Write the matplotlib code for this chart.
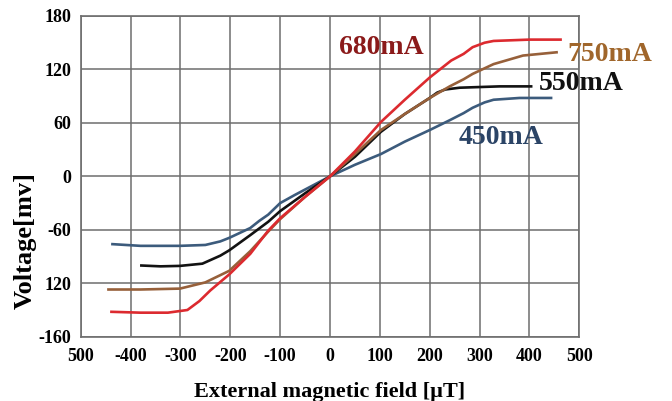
import matplotlib
matplotlib.use("Agg")
import matplotlib.pyplot as plt

# data (field in uT, voltage in mV)
blue_x = [-439, -380, -301, -250, -220, -202, -160, -142, -124, -100, -71, 0, 50, 102, 150, 200, 240, 268, 286, 310, 328, 380, 446]
blue_y = [-76, -78, -78, -77, -73, -69, -58, -50, -43, -30, -21, 0, 13, 25, 39, 52, 63, 71, 77, 83, 86, 88, 88]

black_x = [-381, -340, -301, -256, -220, -202, -160, -124, -100, -50, 0, 50, 102, 150, 200, 215, 231, 260, 286, 340, 406]
black_y = [-100, -101, -100.5, -98, -89, -83, -66, -51, -39, -19, 0, 22, 50, 70, 88, 94, 97.5, 99.5, 100, 101, 101]

brown_x = [-447, -380, -301, -250, -202, -160, -124, -100, -50, 0, 50, 102, 150, 200, 240, 268, 286, 328, 387, 457]
brown_y = [-127, -127, -126, -119, -106, -84, -62, -48, -23, 0, 25, 52, 70, 88, 101, 109, 115, 126, 135.6, 139.4]

red_x = [-441, -380, -325, -286, -262, -240, -202, -160, -124, -100, -50, 0, 50, 102, 150, 200, 243, 268, 286, 310, 328, 400, 465]
red_y = [-152, -153, -153, -150, -140, -128, -110, -87, -61, -47, -23, 0, 28, 61, 86, 111, 130, 137.5, 145, 150, 152, 153.5, 153.5]

series = [
    ("450mA", blue_x, blue_y, "#3c5b7c", "#2b4466", 343, 44),
    ("550mA", black_x, black_y, "#121212", "#111111", 503, 104),
    ("750mA", brown_x, brown_y, "#97603a", "#a0662b", 562, 137),
    ("680mA", red_x, red_y, "#dc2a2f", "#8b1a1a", 102, 145),
]

x_ticks = [-500, -400, -300, -200, -100, 0, 100, 200, 300, 400, 500]
x_labels = ["500", "-400", "-300", "-200", "-100", "0", "100", "200", "300", "400", "500"]
y_ticks = [180, 120, 60, 0, -60, -120, -180]
y_labels = ["180", "120", "60", "0", "-60", "120", "-160"]

plt.rcParams["font.family"] = ["Liberation Serif", "DejaVu Serif"]
plt.rcParams["font.weight"] = "bold"

fig = plt.figure(figsize=(6.72, 4.01), dpi=100)
ax = fig.add_axes([0.1201, 0.1603, 0.7420, 0.7998])

for name, xs, ys, lc, tc, tx, ty in series:
    ax.plot(xs, ys, color=lc, lw=1.9, solid_joinstyle="round", solid_capstyle="butt", zorder=3)
    ax.text(tx, ty, name, color=tc, fontsize=20, fontweight="bold",
            ha="center", va="center", zorder=4)

ax.set_xlim(-500, 500)
ax.set_ylim(-180, 180)
ax.set_xticks(x_ticks)
ax.set_xticklabels(x_labels, fontsize=13, fontweight="bold")
ax.set_yticks(y_ticks)
ax.set_yticklabels(y_labels, fontsize=13, fontweight="bold")
ax.tick_params(length=0, pad=7)
ax.tick_params(axis="x", pad=8)
ax.grid(True, color="#6e6e6e", lw=1.1)
ax.set_axisbelow(True)
for sp in ax.spines.values():
    sp.set_color("#6e6e6e")
    sp.set_linewidth(1.2)

ax.set_xlabel("External magnetic field [µT]", fontsize=16, fontweight="bold")
ax.xaxis.set_label_coords(0.5, -0.14)
ax.set_ylabel("Voltage[mv]", fontsize=19, fontweight="bold")
ax.yaxis.set_label_coords(-0.088, 0.30)

fig.savefig("out.png", dpi=100)
